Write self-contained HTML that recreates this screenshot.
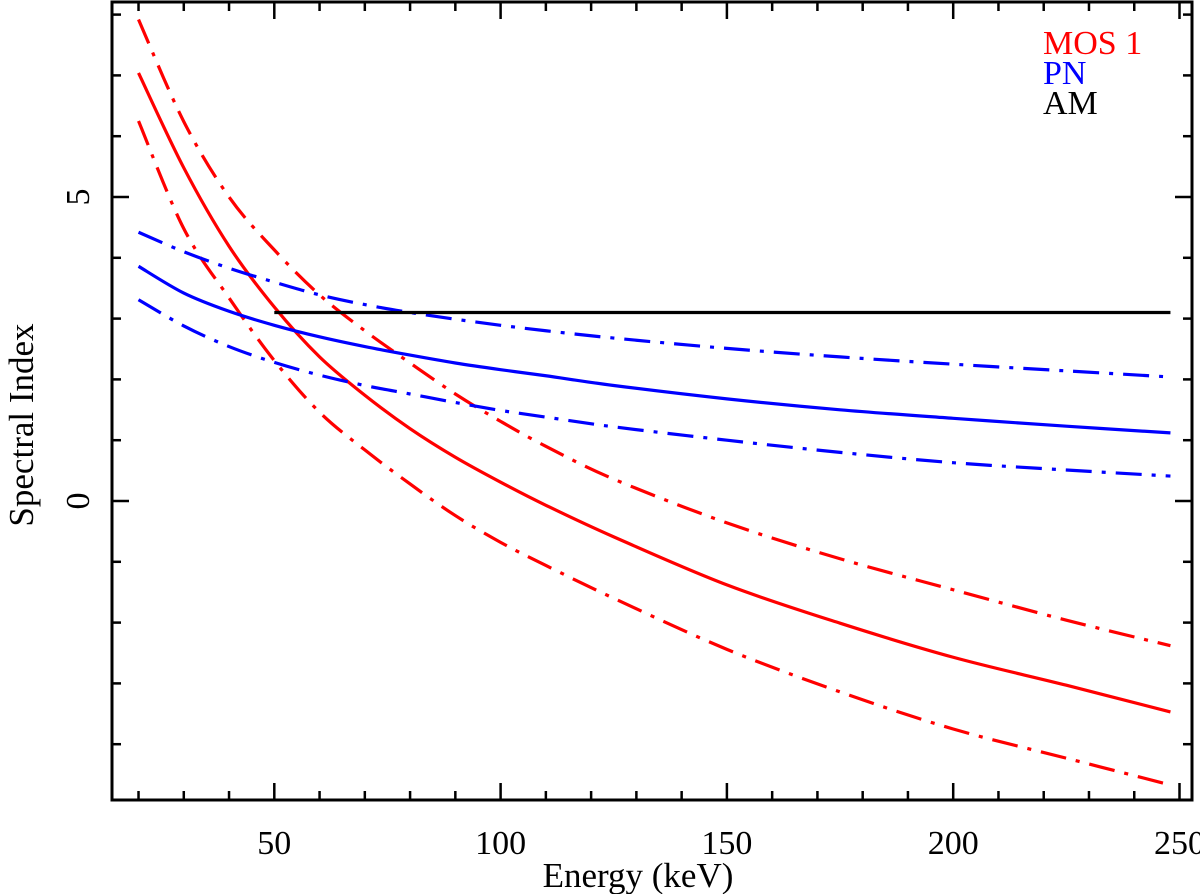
<!DOCTYPE html>
<html><head><meta charset="utf-8">
<style>
html,body{margin:0;padding:0;background:#fff;}
svg{display:block;font-family:"Liberation Serif",serif;}
</style></head>
<body>
<svg id="chart" width="1200" height="894" viewBox="0 0 1200 894" xmlns="http://www.w3.org/2000/svg">
<g id="grid-layer"></g>
<g id="series-layer"></g>
<g id="legend">
<text x="1043" y="54" font-size="34" fill="#ff0000">MOS 1</text>
<text x="1043" y="84" font-size="34" fill="#0000ff">PN</text>
<text x="1043" y="114" font-size="34" fill="#000">AM</text>
</g>
<text x="638" y="887" font-size="35" text-anchor="middle">Energy (keV)</text>
<text transform="translate(33,425) rotate(-90)" font-size="35" text-anchor="middle">Spectral Index</text>
</svg>
<script>
const energies = [20,30,40,50,60,70,80,90,100,110,125,150,175,200,225,248];
const mosBest  = [7.04,5.48,4.19,3.19,2.37,1.74,1.19,0.72,0.31,-0.07,-0.59,-1.38,-2.01,-2.57,-3.03,-3.47];
const mosUpper = [7.92,6.24,5.0,4.13,3.39,2.8,2.27,1.76,1.31,0.9,0.36,-0.36,-0.95,-1.46,-1.96,-2.38];
const mosLower = [6.25,4.48,3.34,2.31,1.46,0.84,0.28,-0.24,-0.68,-1.06,-1.6,-2.44,-3.14,-3.75,-4.23,-4.67];
const pnBest   = [3.86,3.42,3.12,2.89,2.7,2.54,2.4,2.27,2.16,2.06,1.9,1.68,1.5,1.36,1.23,1.12];
const pnUpper  = [4.42,4.1,3.83,3.6,3.39,3.23,3.1,2.99,2.89,2.8,2.68,2.51,2.37,2.25,2.14,2.04];
const pnLower  = [3.31,2.88,2.54,2.28,2.07,1.9,1.76,1.62,1.49,1.38,1.22,1.0,0.8,0.63,0.51,0.41];
const amEnergies = [50,248];
const amValues = [3.1,3.1];
const xTickLabels = [50,100,150,200,250];
const yTickLabels = [0,5];

const NS="http://www.w3.org/2000/svg";
const L=112,R=1192,T=2,B=800;
function xs(e){return 48+4.526*e;}
function ys(v){return 501-60.8*v;}
function mk(tag,attrs,parent){const el=document.createElementNS(NS,tag);for(const k in attrs)el.setAttribute(k,attrs[k]);parent.appendChild(el);return el;}
const axes=document.getElementById('grid-layer');
const series=document.getElementById('series-layer');

const frame=mk('rect',{x:L,y:T,width:R-L,height:B-T,fill:'none',stroke:'#000','stroke-width':3},axes);



for(let e=20;e<=250;e+=10){
  const major=e%50===0;const len=major?17:9;const x=xs(e);
  const t1=mk('line',{x1:x,x2:x,y1:B,y2:B-len,stroke:'#000','stroke-width':2.5},axes);
  
  
  const t2=mk('line',{x1:x,x2:x,y1:T,y2:T+len,stroke:'#000','stroke-width':2.5},axes);
  
  
}
xTickLabels.forEach(v=>{
  const t=mk('text',{x:xs(v),y:854,'font-size':34,'text-anchor':'middle'},axes);
  t.textContent=v;
  
  
});
for(let v=-4;v<=8;v++){
  const major=v%5===0;const len=major?17:9;const y=ys(v);
  const t1=mk('line',{x1:L,x2:L+len,y1:y,y2:y,stroke:'#000','stroke-width':2.5},axes);
  
  
  const t2=mk('line',{x1:R,x2:R-len,y1:y,y2:y,stroke:'#000','stroke-width':2.5},axes);
  
  
}
yTickLabels.forEach(v=>{
  const t=mk('text',{transform:`translate(89,${ys(v)}) rotate(-90)`,'font-size':34,'text-anchor':'middle'},axes);
  t.textContent=v;
  
  
});

function pathFor(xsArr,vals){
  const p=xsArr.map((e,i)=>[xs(e),ys(vals[i])]);
  let d=`M${p[0][0]},${p[0][1]}`;
  for(let i=0;i<p.length-1;i++){
    const p0=p[i-1]||p[i],p1=p[i],p2=p[i+1],p3=p[i+2]||p[i+1];
    const c1=[p1[0]+(p2[0]-p0[0])/6,p1[1]+(p2[1]-p0[1])/6];
    const c2=[p2[0]-(p3[0]-p1[0])/6,p2[1]-(p3[1]-p1[1])/6];
    d+=` C${c1[0]},${c1[1]} ${c2[0]},${c2[1]} ${p2[0]},${p2[1]}`;
  }
  return d;
}
const DASH='26 10 4 10';
function addLine(xa,vals,color,dash,name){
  const el=mk('path',{d:pathFor(xa,vals),fill:'none',stroke:color,'stroke-width':3.2},series);
  if(dash)el.setAttribute('stroke-dasharray',dash);
  
  
}
addLine(energies,mosUpper,'#ff0000',DASH,'mos1-upper-bound');
addLine(energies,mosLower,'#ff0000',DASH,'mos1-lower-bound');
addLine(energies,mosBest,'#ff0000',null,'mos1-best-fit');
addLine(energies,pnUpper,'#0000ff',DASH,'pn-upper-bound');
addLine(energies,pnLower,'#0000ff',DASH,'pn-lower-bound');
addLine(energies,pnBest,'#0000ff',null,'pn-best-fit');
addLine(amEnergies,amValues,'#000',null,'am-line');
</script>
</body></html>
